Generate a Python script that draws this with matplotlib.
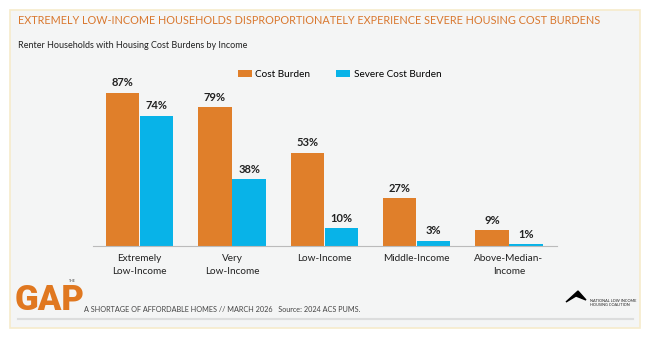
import matplotlib.pyplot as plt
from matplotlib.patches import Rectangle, Polygon
import numpy as np

# Data
categories = ['Extremely\nLow-Income', 'Very\nLow-Income', 'Low-Income',
              'Middle-Income', 'Above-Median-\nIncome']
cost_burden = [87, 79, 53, 27, 9]
severe_burden = [74, 38, 10, 3, 1]

orange = '#E07F2A'
blue = '#08B3E8'
title_color = '#D9782F'

plt.rcParams['font.family'] = ['Lato', 'DejaVu Sans']

fig = plt.figure(figsize=(6.5, 3.4), dpi=100)
fig.patch.set_facecolor('white')

# panel background with cream border
fig.patches.append(Rectangle((10 / 650, 12 / 340), 630 / 650, 318 / 340,
                             transform=fig.transFigure, facecolor='#F4F5F5',
                             edgecolor='#F6EBCB', linewidth=1.2, zorder=-5))
# footer rule
fig.add_artist(plt.Line2D([18 / 650, 633 / 650], [21 / 340, 21 / 340],
                          transform=fig.transFigure, color='#DCDDDD', lw=1.5,
                          zorder=-4))

fig.text(18 / 650, 1 - 21 / 340,
         'EXTREMELY LOW-INCOME HOUSEHOLDS DISPROPORTIONATELY EXPERIENCE SEVERE HOUSING COST BURDENS',
         color=title_color, fontsize=7.8, va='center', ha='left')
fig.text(18 / 650, 1 - 45 / 340, 'Renter Households with Housing Cost Burdens by Income',
         color='#222222', fontsize=6.5, va='center', ha='left')

ax = fig.add_axes([93 / 650, 94 / 340, 464 / 650, 176 / 340])
ax.set_facecolor('none')

x = np.arange(len(categories))
w = 0.36
b1 = ax.bar(x - w / 2 - 0.005, cost_burden, w, color=orange, label='Cost Burden')
b2 = ax.bar(x + w / 2 + 0.005, severe_burden, w, color=blue, label='Severe Cost Burden')

for bars, vals in ((b1, cost_burden), (b2, severe_burden)):
    for r, v in zip(bars, vals):
        ax.text(r.get_x() + r.get_width() / 2, v + 2.5, f'{v}%', ha='center',
                va='bottom', fontsize=8, fontweight='bold', color='#222222')

ax.set_xlim(-0.505, 4.52)
ax.set_ylim(0, 100)
ax.set_yticks([])
ax.set_xticks(x)
ax.set_xticklabels(categories, fontsize=7.2, color='#222222', linespacing=1.5)
ax.tick_params(axis='x', length=0, pad=6)
for s in ['top', 'right', 'left']:
    ax.spines[s].set_visible(False)
ax.spines['bottom'].set_color('#BBBBBB')
ax.spines['bottom'].set_linewidth(0.8)

ax.legend(loc='upper left', bbox_to_anchor=(0.293, 1.05), ncol=2, frameon=False,
          fontsize=7.2, handlelength=1.4, handleheight=0.7, columnspacing=2.6,
          handletextpad=0.35)

# footer: GAP logo and source
fig.text(15 / 650, 1 - 301 / 340, 'GAP', color='#E07820', fontsize=25,
         fontweight='black', va='center', ha='left', family=['Roboto', 'DejaVu Sans'])
fig.text(69 / 650, 1 - 281 / 340, 'THE', color='#444444', fontsize=2.5, va='center',
         ha='left')
fig.text(84 / 650, 1 - 310 / 340,
         'A SHORTAGE OF AFFORDABLE HOMES // MARCH 2026   Source: 2024 ACS PUMS.',
         color='#444444', fontsize=5.2, va='center', ha='left')

# NLIHC logo (simplified)
fig.patches.append(Polygon([[566 / 650, 1 - 302 / 340], [578 / 650, 1 - 291 / 340],
                            [586 / 650, 1 - 300 / 340], [576 / 650, 1 - 296 / 340]],
                           closed=True, transform=fig.transFigure, color='black'))
fig.text(590 / 650, 1 - 303 / 340, 'NATIONAL LOW INCOME\nHOUSING COALITION',
         fontsize=2.8, color='#222222', va='center', ha='left', linespacing=1.3)

plt.savefig('out.png', dpi=100, facecolor=fig.get_facecolor())
